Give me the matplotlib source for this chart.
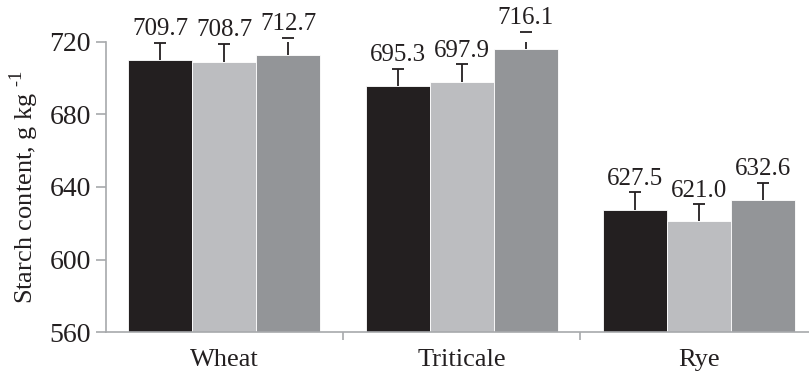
import matplotlib
matplotlib.use("Agg")
import matplotlib.pyplot as plt
import numpy as np

categories = ["Wheat", "Triticale", "Rye"]
series1 = [709.7, 695.3, 627.5]
series2 = [708.7, 697.9, 621.0]
series3 = [712.7, 716.1, 632.6]
errors1 = [9.5, 9.5, 9.5]
errors2 = [10.0, 9.5, 9.4]
errors3 = [9.5, 9.3, 9.5]
yticks = [560, 600, 640, 680, 720]

colors = ["#231f20", "#bcbdc0", "#939598"]
plt.rcParams['font.family'] = ['Liberation Serif', 'DejaVu Serif']
plt.rcParams['mathtext.fontset'] = 'custom'
plt.rcParams['mathtext.rm'] = 'Liberation Serif'

fig = plt.figure(figsize=(8.09, 3.78), dpi=100)
ax = fig.add_axes([0.131, 0.121, 0.869, 0.769])

x = np.arange(len(categories))
w = 0.27
gray = "#a7a9ac"
ink = "#231f20"
for i, (vals, errs) in enumerate(zip([series1, series2, series3], [errors1, errors2, errors3])):
    pos = x + (i - 1) * w
    vals = np.array(vals)
    errs = np.array(errs)
    ax.bar(pos, vals - 560, bottom=560, width=w, color=colors[i],
           edgecolor="white", linewidth=0.6, zorder=2)
    ax.vlines(pos, vals, vals + errs, colors=ink, linewidth=1.3, zorder=3)
    ax.plot(pos, vals + errs, linestyle="none", marker="_", markersize=9,
            markeredgewidth=1.3, color=ink, zorder=3, clip_on=False)
    for p, v, e in zip(pos, vals, errs):
        ax.annotate(f"{v:.1f}", (p, v + e), xytext=(0, 2), textcoords="offset points",
                    ha="center", va="bottom", fontsize=18, color=ink,
                    annotation_clip=False)

ax.set_ylim(560, 720)
ax.set_xlim(-0.5, 2.466)
ax.set_yticks(yticks)
ax.set_yticklabels([str(t) for t in yticks], fontsize=20, color=ink)
ax.set_xticks(x)
ax.set_xticklabels(categories, fontsize=19, color=ink)
ax.set_xticks([0.5, 1.5], minor=True)
ax.tick_params(axis="x", which="major", length=0, pad=12)
ax.tick_params(axis="x", which="minor", length=6, color=gray, width=1.2, direction="out")
ax.tick_params(axis="y", length=7, color=gray, width=1.2, direction="out", pad=4)
for s in ["top", "right"]:
    ax.spines[s].set_visible(False)
for s in ["left", "bottom"]:
    ax.spines[s].set_color(gray)
    ax.spines[s].set_linewidth(1.2)
ax.set_ylabel("Starch content, g kg $^{\u2010 1}$".replace("\u2010 ", "\u2010"),
              fontsize=19, color=ink, labelpad=6)

fig.savefig("out.png", dpi=100)
